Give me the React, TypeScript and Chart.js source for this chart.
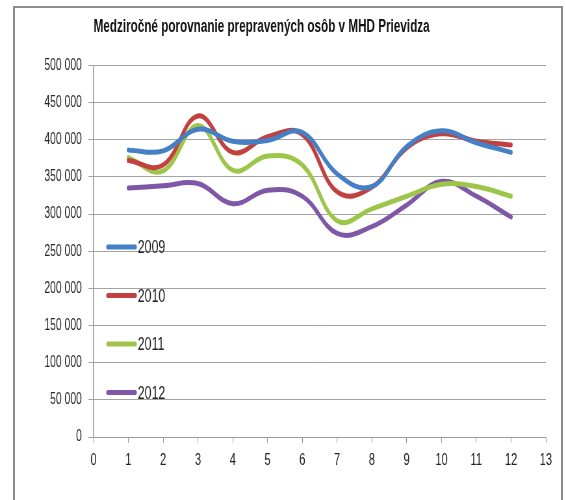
import React, { useEffect, useRef } from 'react';
import { Chart, registerables } from 'chart.js';

Chart.register(...registerables);

const TITLE = 'Medziročné porovnanie prepravených osôb v MHD Prievidza';
const months = [1, 2, 3, 4, 5, 6, 7, 8, 9, 10, 11, 12];
const seriesNames = ['2009', '2010', '2011', '2012'];
const values2009 = [386000, 385000, 414000, 398000, 399000, 410000, 354000, 337000, 391000, 412000, 396000, 383000];
const values2010 = [372000, 366000, 432000, 383000, 404000, 407000, 330000, 336000, 389000, 408000, 398000, 393000];
const values2011 = [376000, 358000, 419000, 359000, 378000, 366000, 291000, 307000, 324000, 340000, 337000, 324000];
const values2012 = [335000, 338000, 341000, 314000, 332000, 324000, 274000, 283000, 312000, 344000, 324000, 296000];
const seriesColors = ['#457fc6', '#c2403d', '#9cc54a', '#7e57a6'];
const xMin = 0;
const xMax = 13;
const yMin = 0;
const yMax = 500000;
const yStep = 50000;

// The reference uses a strongly condensed typeface; the chart is drawn wider and squeezed horizontally.
const PAGE_W = 566;
const PAGE_H = 500;
const CANVAS_W = 871;
const SQUEEZE = PAGE_W / CANVAS_W;

const FONT = "'Liberation Sans', Arial, sans-serif";

const fmt = (v: number) => String(v).replace(/\B(?=(\d{3})+(?!\d))/g, ' ');

const insideLegend = {
  id: 'insideLegend',
  afterDatasetsDraw(chart: any) {
    const { ctx, chartArea } = chart;
    ctx.save();
    chart.data.datasets.forEach((ds: any, i: number) => {
      const y = chartArea.top + 181.5 + i * 48.5;
      const x0 = chartArea.left;
      ctx.strokeStyle = ds.borderColor;
      ctx.lineWidth = 5;
      ctx.lineCap = 'round';
      ctx.beginPath();
      ctx.moveTo(x0 + 22, y);
      ctx.lineTo(x0 + 64, y);
      ctx.stroke();
      ctx.fillStyle = '#222';
      ctx.font = `19px ${FONT}`;
      ctx.textBaseline = 'middle';
      ctx.textAlign = 'left';
      ctx.fillText(ds.label, x0 + 68, y + 1);
    });
    ctx.restore();
  },
};

export default function App() {
  const ref = useRef<HTMLCanvasElement | null>(null);

  useEffect(() => {
    if (!ref.current) return;
    const allValues = [values2009, values2010, values2011, values2012];
    const chart = new Chart(ref.current, {
      type: 'line',
      data: {
        datasets: seriesNames.map((name, i) => ({
          label: name,
          data: months.map((m, j) => ({ x: m, y: allValues[i][j] })),
          borderColor: seriesColors[i],
          backgroundColor: seriesColors[i],
          borderWidth: 5,
          pointRadius: 0,
          tension: 0.4,
          borderCapStyle: 'round',
          borderJoinStyle: 'round',
          fill: false,
        })),
      },
      options: {
        responsive: false,
        animation: false,
        devicePixelRatio: 1,
        layout: { padding: { left: 44, right: 31, top: 0, bottom: 0 } },
        plugins: {
          legend: { display: false },
          tooltip: { enabled: false },
          title: {
            display: true,
            text: TITLE,
            align: 'start',
            fullSize: false,
            color: '#111',
            font: { family: FONT, size: 18, weight: 'bold' },
            padding: { top: 16.5, bottom: 27.3 },
          },
        },
        scales: {
          x: {
            type: 'linear',
            min: xMin,
            max: xMax,
            ticks: {
              stepSize: 1,
              color: '#222',
              font: { family: FONT, size: 17 },
              padding: 7,
              maxRotation: 0,
              autoSkip: false,
            },
            grid: { drawOnChartArea: false, drawTicks: true, tickLength: 6, color: '#999' },
            border: { color: '#999', width: 1 },
            afterFit: (s: any) => { s.height = 63; },
          },
          y: {
            type: 'linear',
            min: yMin,
            max: yMax,
            ticks: {
              stepSize: yStep,
              color: '#222',
              font: { family: FONT, size: 16 },
              padding: 10,
              callback: (v: any) => fmt(Number(v)),
            },
            grid: { color: '#a3a3a3', lineWidth: 1, tickLength: 8 },
            border: { color: '#999', width: 1.5 },
            afterFit: (s: any) => { s.width = 100; },
          },
        },
      } as any,
      plugins: [insideLegend],
    });
    return () => chart.destroy();
  }, []);

  return (
    <div style={{ position: 'absolute', left: 0, top: 0, width: PAGE_W, height: PAGE_H, overflow: 'hidden', background: '#fff' }}>
      <div
        style={{
          position: 'absolute',
          left: 0,
          top: 0,
          width: CANVAS_W,
          height: PAGE_H,
          transform: `scaleX(${SQUEEZE})`,
          transformOrigin: '0 0',
        }}
      >
        <canvas ref={ref} width={CANVAS_W} height={PAGE_H} style={{ display: 'block' }} />
      </div>
      <div
        style={{
          position: 'absolute',
          left: 13,
          top: 6,
          width: 550,
          height: 540,
          border: '2px solid #8d8d8d',
          boxSizing: 'border-box',
          pointerEvents: 'none',
        }}
      />
    </div>
  );
}
